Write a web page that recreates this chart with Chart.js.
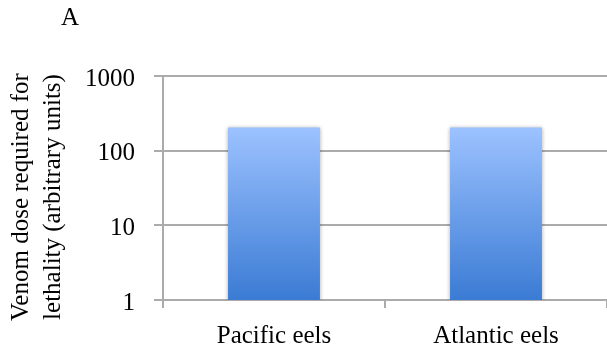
<!DOCTYPE html>
<html>
<head>
<meta charset="utf-8">
<script src="https://cdn.jsdelivr.net/npm/chart.js@4"></script>
<style>
  body { margin: 0; background: #fff; overflow: hidden; }
  #wrap { width: 607px; height: 354px; }
</style>
</head>
<body>
<div id="wrap"><canvas id="eelChart"></canvas></div>
<script>
// data
const categories = ['Pacific eels', 'Atlantic eels'];
const lethalDose = [205, 205];
const yTicks = [1, 10, 100, 1000];
const panelLabel = 'A';
const yTitle = ['Venom dose required for', 'lethality (arbitrary units)'];

const serif = "'Liberation Serif', 'Times New Roman', serif";
const gridGray = '#ababab';

// shadow under the bars + panel letter and y title
const extras = {
    id: 'extras',
    beforeDatasetsDraw(chart) {
        const ctx = chart.ctx;
        ctx.save();
        ctx.shadowColor = 'rgba(0,0,0,0.35)';
        ctx.shadowBlur = 4;
        ctx.shadowOffsetY = 1;
    },
    afterDatasetsDraw(chart) {
        chart.ctx.restore();
    },
    afterDraw(chart) {
        const ctx = chart.ctx;
        ctx.save();
        ctx.fillStyle = '#000';
        ctx.font = '25px ' + serif;
        ctx.textBaseline = 'middle';
        ctx.textAlign = 'center';
        ctx.fillText(panelLabel, 70, 18);
        ctx.translate(0, 197);
        ctx.rotate(-Math.PI / 2);
        yTitle.forEach((line, i) => ctx.fillText(line, 0, 21 + i * 32));
        ctx.restore();
    }
};

const ctx = document.getElementById('eelChart').getContext('2d');

new Chart(ctx, {
    type: 'bar',
    data: {
        labels: categories,
        datasets: [{
            data: lethalDose,
            backgroundColor: (c) => {
                const chart = c.chart;
                const y = chart.scales.y;
                if (!y || !chart.chartArea) return '#6a9fe8';
                const top = y.getPixelForValue(lethalDose[c.dataIndex] || lethalDose[0]);
                const g = chart.ctx.createLinearGradient(0, top, 0, y.bottom);
                g.addColorStop(0, '#9cc2ff');
                g.addColorStop(1, '#3b7bd4');
                return g;
            },
            borderWidth: 0,
            barPercentage: 0.414,
            categoryPercentage: 1
        }]
    },
    options: {
        responsive: true,
        maintainAspectRatio: false,
        animation: false,
        layout: { padding: { top: 76, left: 0, right: 0, bottom: 0 } },
        plugins: {
            legend: { display: false },
            tooltip: { enabled: false }
        },
        scales: {
            x: {
                offset: true,
                afterFit: (s) => { s.height = 54; },
                border: { display: true, color: gridGray, width: 2 },
                grid: {
                    drawOnChartArea: false,
                    drawTicks: true,
                    tickLength: 8,
                    color: gridGray,
                    lineWidth: 2
                },
                ticks: {
                    color: '#000',
                    padding: 13,
                    font: { family: serif, size: 25 }
                }
            },
            y: {
                type: 'logarithmic',
                min: 1,
                max: 1000,
                afterFit: (s) => { s.width = 163; },
                afterBuildTicks: (s) => { s.ticks = yTicks.map(v => ({ value: v })); },
                border: { display: true, color: gridGray, width: 2 },
                grid: {
                    color: gridGray,
                    lineWidth: 2,
                    tickLength: 9
                },
                ticks: {
                    color: '#000',
                    padding: 19,
                    labelOffset: 3,
                    font: { family: serif, size: 25 },
                    callback: (v) => String(v)
                }
            }
        }
    },
    plugins: [extras]
});
</script>
</body>
</html>
